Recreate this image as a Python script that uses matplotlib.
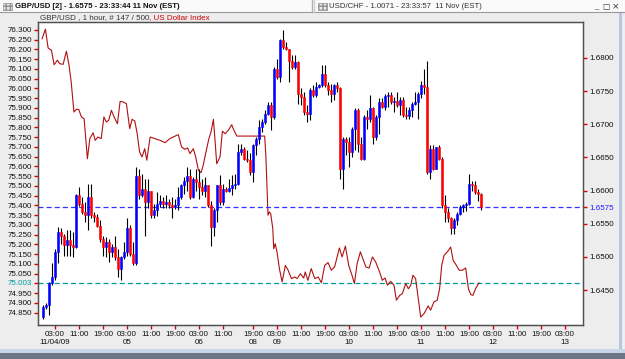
import matplotlib
matplotlib.use("Agg")
import matplotlib.pyplot as plt
from matplotlib.patches import Rectangle

plt.rcParams["font.family"] = ["Liberation Sans", "DejaVu Sans"]

# GBP/USD hourly bars (right axis); bar 0 = 03:00 on 11/04/09
bar_start = -4
gbp_first_open = 1.6409
gbp_close = [
    1.6425, 1.6428, 1.6460, 1.6470, 1.6507, 1.6538, 1.6532, 1.6518, 1.6525, 1.6518,
    1.6515, 1.6593, 1.6580, 1.6568, 1.6563, 1.6590, 1.6563, 1.6560, 1.6547, 1.6527,
    1.6515, 1.6522, 1.6507, 1.6515, 1.6500, 1.6482, 1.6500, 1.6508, 1.6543, 1.6505,
    1.6490, 1.6622, 1.6593, 1.6603, 1.6583, 1.6599, 1.6563, 1.6570, 1.6580, 1.6585,
    1.6580, 1.6583, 1.6578, 1.6575, 1.6578, 1.6590, 1.6608, 1.6615, 1.6622, 1.6590,
    1.6618, 1.6613, 1.6605, 1.6600, 1.6608, 1.6578, 1.6545, 1.6570, 1.6608, 1.6583,
    1.6603, 1.6600, 1.6604, 1.6608, 1.6610, 1.6658, 1.6663, 1.6648, 1.6646, 1.6628,
    1.6668, 1.6678, 1.6696, 1.6703, 1.6716, 1.6729, 1.6711, 1.6784, 1.6771, 1.6827,
    1.6817, 1.6814, 1.6796, 1.6786, 1.6794, 1.6746, 1.6741, 1.6719, 1.6716, 1.6751,
    1.6744, 1.6756, 1.6760, 1.6776, 1.6759, 1.6751, 1.6746, 1.6760, 1.6754, 1.6633,
    1.6678, 1.6673, 1.6658, 1.6693, 1.6721, 1.6671, 1.6648, 1.6711, 1.6708, 1.6724,
    1.6681, 1.6711, 1.6734, 1.6726, 1.6743, 1.6744, 1.6734, 1.6735, 1.6729, 1.6736,
    1.6714, 1.6712, 1.6721, 1.6731, 1.6734, 1.6746, 1.6759, 1.6756, 1.6628, 1.6663,
    1.6633, 1.6666, 1.6648, 1.6578, 1.6568, 1.6558, 1.6543, 1.6555, 1.6565, 1.6575,
    1.6578, 1.6580, 1.6610, 1.6608, 1.6598, 1.6595, 1.6575,
]
gbp_high = [
    1.6427, 1.6430, 1.6462, 1.6490, 1.6512, 1.6545, 1.6543, 1.6535, 1.6540, 1.6540,
    1.6538, 1.6595, 1.6605, 1.6590, 1.6583, 1.6610, 1.6610, 1.6568, 1.6565, 1.6555,
    1.6532, 1.6530, 1.6527, 1.6520, 1.6532, 1.6512, 1.6502, 1.6522, 1.6558, 1.6548,
    1.6522, 1.6635, 1.6633, 1.6625, 1.6618, 1.6618, 1.6600, 1.6580, 1.6598, 1.6593,
    1.6590, 1.6593, 1.6588, 1.6590, 1.6588, 1.6605, 1.6610, 1.6620, 1.6635, 1.6633,
    1.6620, 1.6633, 1.6633, 1.6618, 1.6620, 1.6609, 1.6585, 1.6573, 1.6609, 1.6623,
    1.6610, 1.6605, 1.6618, 1.6623, 1.6625, 1.6671, 1.6671, 1.6666, 1.6661, 1.6656,
    1.6671, 1.6681, 1.6706, 1.6708, 1.6721, 1.6734, 1.6734, 1.6786, 1.6799, 1.6829,
    1.6842, 1.6824, 1.6814, 1.6804, 1.6804, 1.6796, 1.6754, 1.6749, 1.6729, 1.6754,
    1.6759, 1.6764, 1.6761, 1.6789, 1.6789, 1.6764, 1.6761, 1.6761, 1.6764, 1.6756,
    1.6681, 1.6681, 1.6681, 1.6696, 1.6724, 1.6724, 1.6681, 1.6714, 1.6721, 1.6744,
    1.6726, 1.6714, 1.6739, 1.6739, 1.6746, 1.6749, 1.6749, 1.6741, 1.6749, 1.6741,
    1.6741, 1.6726, 1.6726, 1.6734, 1.6749, 1.6749, 1.6766, 1.6784, 1.6796, 1.6668,
    1.6668, 1.6666, 1.6668, 1.6651, 1.6593, 1.6573, 1.6560, 1.6558, 1.6568, 1.6578,
    1.6580, 1.6583, 1.6625, 1.6615, 1.6615, 1.6603, 1.6597,
]
gbp_low = [
    1.6407, 1.6421, 1.6413, 1.6457, 1.6465, 1.6490, 1.6520, 1.6502, 1.6502, 1.6502,
    1.6500, 1.6513, 1.6577, 1.6564, 1.6553, 1.6540, 1.6558, 1.6553, 1.6545, 1.6522,
    1.6502, 1.6500, 1.6492, 1.6500, 1.6495, 1.6470, 1.6465, 1.6497, 1.6502, 1.6502,
    1.6487, 1.6487, 1.6588, 1.6590, 1.6532, 1.6573, 1.6558, 1.6558, 1.6562, 1.6575,
    1.6573, 1.6573, 1.6574, 1.6558, 1.6572, 1.6570, 1.6587, 1.6595, 1.6600, 1.6588,
    1.6589, 1.6600, 1.6588, 1.6593, 1.6590, 1.6575, 1.6517, 1.6532, 1.6553, 1.6578,
    1.6578, 1.6598, 1.6598, 1.6593, 1.6603, 1.6608, 1.6653, 1.6646, 1.6643, 1.6623,
    1.6613, 1.6654, 1.6671, 1.6688, 1.6701, 1.6714, 1.6691, 1.6708, 1.6769, 1.6764,
    1.6814, 1.6812, 1.6764, 1.6784, 1.6784, 1.6731, 1.6729, 1.6714, 1.6703, 1.6706,
    1.6741, 1.6741, 1.6754, 1.6756, 1.6756, 1.6744, 1.6734, 1.6736, 1.6749, 1.6618,
    1.6603, 1.6653, 1.6635, 1.6651, 1.6661, 1.6658, 1.6646, 1.6646, 1.6693, 1.6703,
    1.6671, 1.6676, 1.6686, 1.6724, 1.6721, 1.6726, 1.6731, 1.6719, 1.6726, 1.6714,
    1.6711, 1.6708, 1.6708, 1.6711, 1.6729, 1.6708, 1.6739, 1.6746, 1.6625, 1.6618,
    1.6631, 1.6633, 1.6646, 1.6573, 1.6553, 1.6553, 1.6534, 1.6535, 1.6548, 1.6563,
    1.6568, 1.6569, 1.6578, 1.6600, 1.6595, 1.6585, 1.6570,
]

# US Dollar Index overlay (left axis), vertices at bar positions
usd_x = [
    -4.3, -3.2, -2.3, -1.2, -0.3, 0.8, 1.6, 2.7, 3.8, 4.6,
    5.4, 6.3, 7.1, 7.9, 8.8, 9.7, 10.8, 11.6, 12.7, 13.4,
    14.3, 15.4, 16.3, 17.1, 17.9, 18.8, 19.7, 20.8, 21.7, 22.7,
    23.8, 24.9, 25.7, 26.6, 27.4, 28.2, 29.0, 29.9, 30.6, 31.7,
    33.3, 35.0, 36.7, 38.3, 40.6, 41.1, 42.2, 43.3, 44.2, 45.0,
    46.1, 46.9, 47.8, 48.7, 49.4, 50.2, 51.3, 52.0, 52.8, 53.3,
    53.9, 55.0, 55.8, 56.7, 57.8, 58.9, 59.4, 60.6, 69.9, 70.3,
    70.7, 71.0, 71.4, 71.9, 72.6, 72.9, 73.4, 74.0, 74.8, 75.7,
    76.8, 77.7, 78.8, 79.9, 80.7, 81.8, 82.9, 83.4, 84.3, 85.4,
    86.6, 87.7, 88.8, 89.9, 91.0, 92.1, 93.2, 94.8, 95.7, 96.8,
    97.9, 99.0, 99.8, 100.7, 101.8, 103.6, 104.7, 105.8, 106.9, 108.2,
    109.1, 110.0, 110.8, 111.9, 113.0, 113.8, 114.9, 115.8, 116.9, 117.8,
    118.6, 119.3, 120.2, 121.9, 123.0, 124.4, 125.2, 126.3, 127.4, 128.2,
    128.9, 129.7, 130.8, 131.9, 132.7, 133.8, 134.7, 135.8, 136.9, 137.8,
    138.6, 139.3, 140.2, 141.3,
]
usd_y = [
    76.255, 76.304, 76.208, 76.196, 76.122, 76.145, 76.127, 76.124, 76.191, 76.127,
    76.033, 75.879, 75.893, 75.893, 75.854, 75.845, 75.640, 75.743, 75.773, 75.734,
    75.751, 75.743, 75.854, 75.828, 75.837, 75.888, 75.854, 75.819, 75.934, 75.931,
    75.922, 75.794, 75.842, 75.833, 75.768, 75.674, 75.649, 75.691, 75.632, 75.751,
    75.743, 75.734, 75.722, 75.743, 75.760, 75.763, 75.700, 75.688, 75.695, 75.666,
    75.691, 75.649, 75.581, 75.568, 75.606, 75.666, 75.743, 75.777, 75.842, 75.743,
    75.614, 75.649, 75.781, 75.768, 75.786, 75.814, 75.794, 75.756, 75.756, 75.649,
    75.486, 75.350, 75.367, 75.358, 75.281, 75.178, 75.204, 75.162, 75.076, 75.008,
    75.093, 75.068, 75.025, 75.033, 75.025, 75.050, 75.028, 75.059, 75.016, 75.076,
    75.025, 75.033, 75.004, 75.093, 75.107, 75.068, 75.085, 75.182, 75.136, 75.192,
    75.093, 75.042, 75.000, 75.102, 75.162, 75.085, 75.079, 75.136, 75.110, 75.059,
    75.016, 75.028, 74.991, 75.011, 74.991, 74.914, 74.939, 74.948, 74.999, 74.973,
    74.991, 75.042, 75.025, 74.828, 74.845, 74.885, 74.863, 74.905, 74.914, 74.973,
    75.093, 75.145, 75.162, 75.187, 75.119, 75.093, 75.068, 75.068, 75.079, 74.973,
    74.943, 74.939, 74.973, 75.003,
]

last_gbp = 1.6575
last_usd = 75.003

left_ticks = [74.85, 74.90, 74.95, 75.003, 75.05, 75.10, 75.15, 75.20, 75.25, 75.30,
              75.35, 75.40, 75.45, 75.50, 75.55, 75.60, 75.65, 75.70, 75.75, 75.80,
              75.85, 75.90, 75.95, 76.00, 76.05, 76.10, 76.15, 76.20, 76.25, 76.30]
right_ticks = [1.6450, 1.6500, 1.6550, 1.6575, 1.6600, 1.6650, 1.6700, 1.6750, 1.6800]

x_tick_pos = [0, 8, 16, 24, 32, 40, 48, 56, 66, 74, 82, 90, 98, 106, 114,
              122, 130, 138, 146, 154, 162, 170]
x_tick_time = ["03:00", "11:00", "19:00", "03:00", "11:00", "19:00", "03:00", "11:00",
               "19:00", "03:00", "11:00", "19:00", "03:00", "11:00", "19:00",
               "03:00", "11:00", "19:00", "03:00", "11:00", "19:00", "03:00"]
x_tick_date = ["11/04/09", "", "", "05", "", "", "06", "", "08", "09", "", "", "10", "", "",
               "11", "", "", "12", "", "", "13"]

W, H = 625, 359
fig = plt.figure(figsize=(W / 100, H / 100), dpi=100, facecolor="#EDEDED")

# window chrome
bg = fig.add_axes([0, 0, 1, 1])
bg.set_xlim(0, W)
bg.set_ylim(H, 0)
bg.axis("off")
bg.add_patch(Rectangle((0, 0), W, 11.5, facecolor="#FAFAFA", edgecolor="none"))
bg.plot([0, W], [11.5, 11.5], color="#9A9A9A", lw=0.8)
bg.plot([312, 312], [0, 11.5], color="#B0B0B0", lw=1)
bg.plot([314, 314], [0, 11.5], color="#D0D0D0", lw=1)
for ix in (3, 318):
    bg.add_patch(Rectangle((ix, 2.5), 9, 7, facecolor="#E8E8E8", edgecolor="#909090",
                           lw=0.5, hatch="++++"))
bg.text(15, 6.3, "GBP/USD [2] - 1.6575 - 23:33:44 11 Nov (EST)", fontsize=5.6,
        fontweight="bold", va="center", ha="left", color="#111111")
bg.text(329, 6.3, "USD/CHF - 1.0071 - 23:33:57  11 Nov (EST)", fontsize=5.6,
        va="center", ha="left", color="#333333")
bg.text(596, 6.3, "_", fontsize=5.5, va="center", ha="center", color="#333333")
bg.text(606, 6.3, "\u25a1", fontsize=5.5, va="center", ha="center", color="#333333",
        family="DejaVu Sans")
bg.text(616, 6.3, "\u00d7", fontsize=6.5, va="center", ha="center", color="#333333",
        family="DejaVu Sans")
bg.add_patch(Rectangle((618.5, 11.5), 3, 338, facecolor="#B7C6E2", edgecolor="none"))
bg.add_patch(Rectangle((0, 349), W, 3.5, facecolor="#C9D5EA", edgecolor="none"))
bg.add_patch(Rectangle((0, 352.5), W, 7, facecolor="#6C7585", edgecolor="none"))
sub = bg.text(40, 17.3, "GBP/USD , 1 hour, # 147 / 500", fontsize=5.8, va="center",
              ha="left", color="#333333")
bg.annotate(", US Dollar Index", xy=(1, 0), xycoords=sub, va="bottom", ha="left",
            fontsize=5.8, color="#CC0000")

# chart axes
ax = fig.add_axes([38 / W, 34 / H, 545 / W, 303 / H])
ax.set_facecolor("white")
ax.set_xlim(-5.67, 176)
ax.set_ylim(74.787, 76.341)
ax2 = ax.twinx()
ax2.set_ylim(1.63972, 1.68543)

for sp in list(ax.spines.values()) + list(ax2.spines.values()):
    sp.set_color("#505050")
    sp.set_linewidth(0.9)

ax.plot(usd_x, usd_y, color="#B01010", lw=0.8, zorder=2)
ax.axhline(last_usd, color="#009A9A", lw=0.9, ls=(0, (4, 2.5)), zorder=1)

opens = [gbp_first_open] + gbp_close[:-1]
for i, (o, c, hi, lo) in enumerate(zip(opens, gbp_close, gbp_high, gbp_low)):
    x = bar_start + i
    ax2.vlines(x, lo, hi, color="black", lw=0.8, zorder=3)
    if c > o:
        col = "#0000FF"
    elif c < o:
        col = "#FF0000"
    else:
        col = "#808080"
    ax2.bar(x, c - o, bottom=o, width=0.72, color=col, edgecolor=col,
            linewidth=0.4, zorder=4)
ax2.axhline(last_gbp, color="#3333FF", lw=0.9, ls=(0, (4, 2.5)), zorder=2)

ax.set_xticks(x_tick_pos)
ax.set_xticklabels([t + "\n" + d for t, d in zip(x_tick_time, x_tick_date)],
                   linespacing=1.15)
ax.set_yticks(left_ticks)
ax.set_yticklabels([f"{v:.3f}" for v in left_ticks])
ax2.set_yticks(right_ticks)
ax2.set_yticklabels([f"{v:.4f}" for v in right_ticks])

ax.tick_params(axis="both", direction="out", length=3, width=1, color="#E00000",
               labelsize=5.8, labelcolor="#111111", pad=1.5)
ax2.tick_params(axis="y", direction="out", length=3, width=1, color="#E00000",
                labelsize=5.8, labelcolor="#111111", pad=1.5)

for lab, v in zip(ax.get_yticklabels(), left_ticks):
    if v == last_usd:
        lab.set_color("#009A9A")
for lab, v in zip(ax2.get_yticklabels(), right_ticks):
    if v == last_gbp:
        lab.set_color("#2020FF")

fig.savefig("out.png", dpi=100, facecolor=fig.get_facecolor())
